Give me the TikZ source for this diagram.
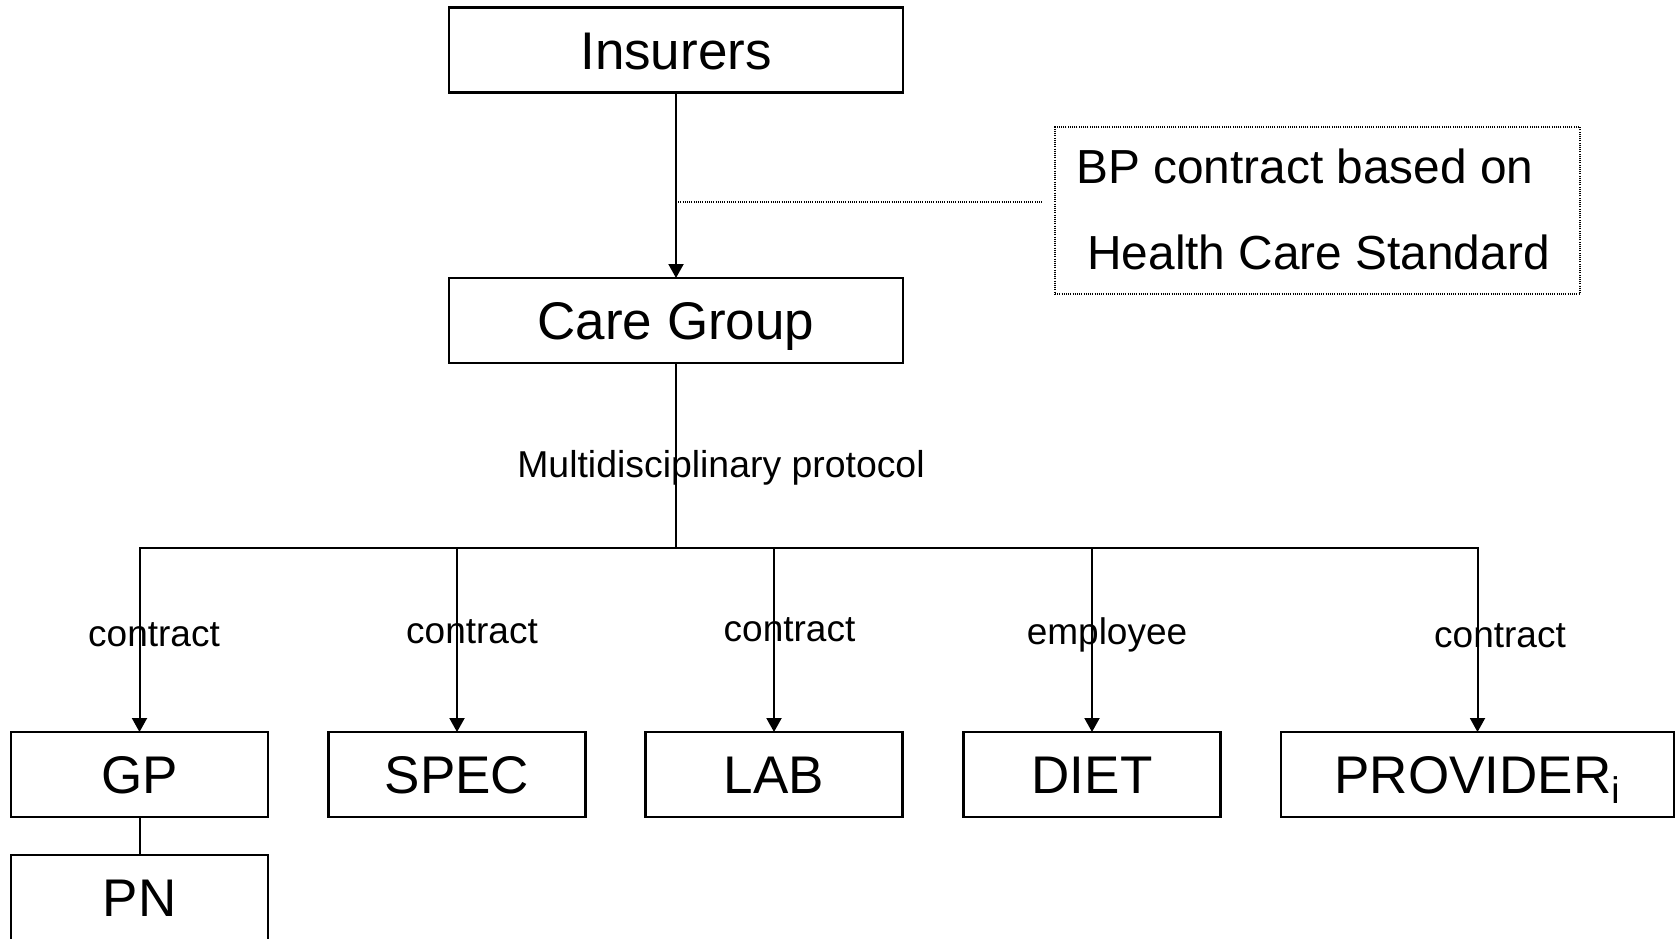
\documentclass[tikz,border=0pt]{standalone}
\usepackage{fontspec}
\setmainfont{Liberation Sans}
\usetikzlibrary{arrows.meta}

\begin{document}
\begin{tikzpicture}[x=0.5pt,y=-0.5pt,
  box/.style={draw, line width=1.2pt, inner sep=0pt, outer sep=0pt,
    minimum width=128.5pt, minimum height=42.5pt,
    text height=19.1pt, text depth=0pt, font=\fontsize{26.5pt}{30pt}\selectfont},
  notebox/.style={draw, line width=0.55pt, dash pattern=on 0.5pt off 0.6pt,
    inner sep=0pt, minimum width=262.5pt, minimum height=83.5pt},
  notetext/.style={anchor=base west, inner sep=0pt, font=\fontsize{23.9pt}{27pt}\selectfont},
  lbl/.style={anchor=base, inner sep=0pt, font=\fontsize{18.5pt}{21pt}\selectfont},
  link/.style={line width=1pt},
  arrow/.style={line width=1pt, -{Triangle[length=7pt,width=7.5pt]}},
  dotline/.style={line width=0.55pt, dash pattern=on 0.5pt off 0.6pt}
]
\useasboundingbox (0,0) rectangle (1679,938);
\clip (0,0) rectangle (1679,938);

% top of the hierarchy
\node[box, minimum width=227pt] (ins) at (676,50) {Insurers};
\node[box, minimum width=227pt] (cg) at (676,320.5) {Care Group};

% note on the contract between insurers and care group
\node[notebox] (note) at (1317.5,210.5) {};
\node[notetext] (note1) at (1076,183) {BP contract based on};
\node[notetext] (note2) at (1087,269) {Health Care Standard};

% providers
\node[box] (gp) at (139.5,774.5) {GP};
\node[box] (spec) at (457,774.5) {SPEC};
\node[box] (lab) at (774,774.5) {LAB};
\node[box] (diet) at (1092,774.5) {DIET};
\node[box, minimum width=196.5pt] (prov) at (1477.5,774.5) {PROVIDER\textsubscript{i}};
\node[box] (pn) at (139.5,897.5) {PN};

% connectors
\coordinate (bus) at (676,548);
\coordinate (dotend) at (1042,202);

\draw[arrow] (ins.south) -- (cg.north);
\draw[dotline] (ins.south |- dotend) -- (dotend);
\draw[line width=1.4pt] (cg.south) -- (bus);
\draw[arrow] (bus) -| (gp.north);
\draw[arrow] (bus) -| (spec.north);
\draw[arrow] (bus) -| (lab.north);
\draw[arrow] (bus) -| (diet.north);
\draw[arrow] (bus) -| (prov.north);
\draw[link] (gp.south) -- (pn.north);

% labels
\node[lbl, font=\fontsize{18.7pt}{21pt}\selectfont] (proto) at (721,477) {Multidisciplinary protocol};
\node[lbl] (l1) at (154,646.5) {contract};
\node[lbl] (l2) at (472,643) {contract};
\node[lbl] (l3) at (789.5,641.5) {contract};
\node[lbl] (l4) at (1107,644) {employee};
\node[lbl] (l5) at (1500,647) {contract};
\end{tikzpicture}
\end{document}
